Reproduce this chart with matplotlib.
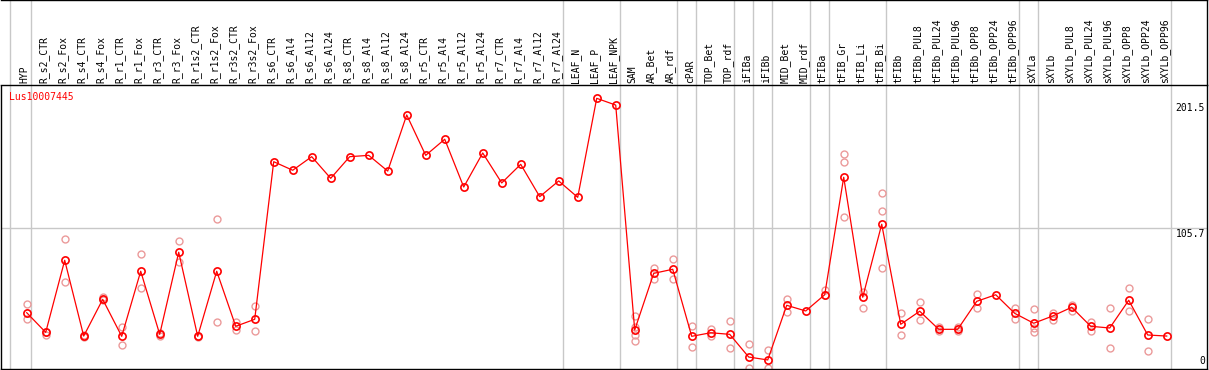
import matplotlib
matplotlib.use("Agg")
import matplotlib.pyplot as plt
import matplotlib.transforms as mtransforms

# sample names, one per column
samples = [
    "HYP", "R_s2_CTR", "R_s2_Fox", "R_s4_CTR", "R_s4_Fox", "R_r1_CTR", "R_r1_Fox",
    "R_r3_CTR", "R_r3_Fox", "R_r1s2_CTR", "R_r1s2_Fox", "R_r3s2_CTR", "R_r3s2_Fox",
    "R_s6_CTR", "R_s6_Al4", "R_s6_Al12", "R_s6_Al24", "R_s8_CTR", "R_s8_Al4",
    "R_s8_Al12", "R_s8_Al24", "R_r5_CTR", "R_r5_Al4", "R_r5_Al12", "R_r5_Al24",
    "R_r7_CTR", "R_r7_Al4", "R_r7_Al12", "R_r7_Al24", "LEAF_N", "LEAF_P", "LEAF_NPK",
    "SAM", "AR_Bet", "AR_rdf", "cPAR", "TOP_Bet", "TOP_rdf", "iFIBa", "iFIBb",
    "MID_Bet", "MID_rdf", "tFIBa", "tFIB_Gr", "tFIB_Li", "tFIB_Bi", "tFIBb",
    "tFIBb_PUL8", "tFIBb_PUL24", "tFIBb_PUL96", "tFIBb_OPP8", "tFIBb_OPP24",
    "tFIBb_OPP96", "sXYLa", "sXYLb", "sXYLb_PUL8", "sXYLb_PUL24", "sXYLb_PUL96",
    "sXYLb_OPP8", "sXYLb_OPP24", "sXYLb_OPP96",
]

# mean expression
means = [
    41.9, 27.0, 81.6, 24.2, 52.0, 24.0, 73.3, 25.5, 87.7, 24.0, 73.3, 31.6, 36.9,
    156.3, 149.8, 160.1, 143.7, 160.1, 161.1, 149.2, 191.7, 161.1, 173.3, 137.1,
    162.9, 140.2, 154.3, 129.8, 141.7, 129.3, 204.3, 199.2,
    28.8, 71.7, 74.8, 24.0, 26.7, 25.5, 8.3, 6.1, 47.5, 43.2, 55.5, 144.5, 53.6,
    108.9, 33.1, 43.0, 29.3, 29.3, 50.5, 55.5, 41.4, 33.9, 39.4, 46.0, 31.6, 30.3,
    51.3, 25.0, 24.2,
]

# individual replicates
replicates = [
    [48.5, 37.3], [27.5, 25.0], [97.5, 65.2], [25.0, 23.5], [53.6, 51.5],
    [31.1, 17.2], [86.1, 60.4], [26.5, 24.5], [96.0, 80.3], [24.6, 23.5],
    [112.9, 34.6], [34.8, 29.0], [46.7, 27.8],
    [], [], [], [], [], [], [], [], [], [], [], [], [], [], [], [], [], [], [],
    [39.6, 31.3, 25.0, 20.2], [75.8, 67.7], [82.3, 67.2], [31.6, 15.9],
    [29.8, 24.5], [35.4, 14.9], [18.0, 0.0], [13.6, 0.0], [52.3, 42.7], [],
    [58.9, 55.5], [162.1, 156.3, 114.2], [57.3, 45.2], [132.3, 118.7, 75.8],
    [41.4, 24.8], [49.8, 36.1], [30.8, 27.8], [30.8, 27.8], [56.1, 45.2], [],
    [45.7, 37.3], [44.5, 30.1, 27.5], [41.9, 36.1], [48.0, 43.4], [35.1, 27.8],
    [45.2, 14.9], [60.4, 43.0], [37.1, 12.7], [],
]

# last sample of each group (separator drawn just after it)
group_ends = [0, 28, 31, 34, 35, 37, 38, 39, 41, 42, 45, 52, 53, 60]

y_ticks = [201.5, 105.7, 0]
gene = "Lus10007445"

W, H = 1209, 370
fig = plt.figure(figsize=(W / 100, H / 100), dpi=100)
ax = fig.add_axes([1 / W, 1 / H, 1206 / W, 284 / H])
head = fig.add_axes([1 / W, 285 / H, 1206 / W, 85 / H], sharex=ax)

font = dict(family="DejaVu Sans Mono", size=7)
grey = "#c8c8c8"
x = list(range(len(samples)))

ax.set_xlim(-1.353, 62.12)
ax.set_ylim(-0.76, 214.4)
head.set_ylim(0, 1)

for a in (ax, head):
    a.set_xticks([])
    a.set_yticks([])
    for s in a.spines.values():
        s.set_linewidth(1.0)
        s.set_color("black")
ax.spines["top"].set_visible(False)
head.spines["left"].set_visible(False)

seps = [-0.88] + [e + 0.2 for e in group_ends]
for sx in seps:
    ax.axvline(sx, color=grey, lw=1.0, zorder=1)
    head.axvline(sx, color=grey, lw=1.0, zorder=1)
ax.axhline(105.7, color=grey, lw=1.0, zorder=1)

# replicate points
for i, reps in enumerate(replicates):
    if reps:
        ax.plot([i] * len(reps), reps, "o", ms=5, mfc="none", mec="#eb9a9a",
                mew=1.0, zorder=2)

ax.plot(x, means, "-", color="red", lw=0.9, zorder=3)
ax.plot(x, means, "o", ms=5.2, mfc="none", mec="red", mew=1.2, zorder=4)

for i, name in enumerate(samples):
    head.text(i - 0.1, 0.025, name, rotation=90, ha="center", va="bottom", **font)

ytr = ax.get_yaxis_transform()
for v in y_ticks:
    if v == 0:
        tr = mtransforms.offset_copy(ytr, fig=fig, x=-2, y=2, units="dots")
        ax.text(1, v, "0", ha="right", va="bottom", transform=tr, **font)
    else:
        tr = mtransforms.offset_copy(ytr, fig=fig, x=-2, y=-1, units="dots")
        ax.text(1, v, str(v), ha="right", va="top", transform=tr, **font)

ax.text(8 / 1206, 1 - 12 / 284, gene, color="red", ha="left", va="center",
        transform=ax.transAxes, **font)

fig.savefig("out.png", dpi=100)
